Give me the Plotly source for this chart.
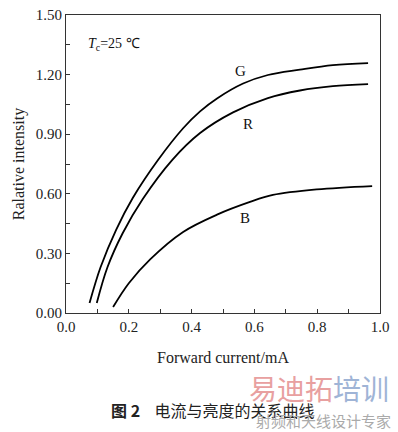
import plotly.graph_objects as go

# Data
g_x = [0.075, 0.11, 0.16, 0.213, 0.293, 0.373, 0.427, 0.481, 0.564, 0.643, 0.745, 0.85, 0.962]
g_y = [0.05, 0.23, 0.42, 0.58, 0.77, 0.93, 1.015, 1.08, 1.155, 1.198, 1.225, 1.248, 1.258]
r_x = [0.098, 0.132, 0.18, 0.245, 0.338, 0.427, 0.532, 0.643, 0.745, 0.85, 0.962]
r_y = [0.05, 0.23, 0.40, 0.575, 0.77, 0.906, 1.01, 1.082, 1.12, 1.142, 1.152]
b_x = [0.150, 0.2, 0.268, 0.373, 0.481, 0.586, 0.659, 0.799, 0.975]
b_y = [0.030, 0.15, 0.27, 0.408, 0.495, 0.559, 0.594, 0.622, 0.639]

x_ticks = [0.0, 0.2, 0.4, 0.6, 0.8, 1.0]
x_tick_labels = ["0.0", "0.2", "0.4", "0.6", "0.8", "1.0"]
y_ticks = [0.0, 0.3, 0.6, 0.9, 1.2, 1.5]
y_tick_labels = ["0.00", "0.30", "0.60", "0.90", "1.20", "1.50"]

series = [("G", g_x, g_y), ("R", r_x, r_y), ("B", b_x, b_y)]
labels = [("G", 0.557, 1.218), ("R", 0.58, 0.951), ("B", 0.57, 0.478)]

SERIF = "Liberation Serif"
fig = go.Figure()
for name, xs, ys in series:
    fig.add_trace(go.Scatter(x=xs, y=ys, mode="lines", name=name,
                             line=dict(color="black", width=1.8, shape="spline", smoothing=1.0),
                             showlegend=False))

for text, lx, ly in labels:
    fig.add_annotation(x=lx, y=ly, text=text, showarrow=False,
                       font=dict(family=SERIF, size=15, color="#111"))

fig.add_annotation(x=0.065, y=1.35, xanchor="left", text="<i>T</i><sub>c</sub>=25 ℃",
                   showarrow=False, font=dict(family=SERIF, size=14, color="#111"))

axis_common = dict(showline=True, linecolor="#333", linewidth=1, mirror=True,
                   ticks="inside", ticklen=4, tickcolor="#333", showgrid=False,
                   zeroline=False, automargin=False,
                   tickfont=dict(family=SERIF, size=15, color="#222"))

fig.update_xaxes(range=[0, 1.0], tickvals=x_ticks, ticktext=x_tick_labels,
                 minor=dict(ticks="inside", ticklen=4, dtick=0.1, tick0=0.1, tickcolor="#333"),
                 title=dict(text="Forward current/mA", font=dict(family=SERIF, size=16, color="#222"),
                            standoff=17),
                 **axis_common)
fig.update_yaxes(range=[0, 1.5], tickvals=y_ticks, ticktext=y_tick_labels,
                 minor=dict(ticks="inside", ticklen=4, dtick=0.15, tick0=0.15, tickcolor="#333"),
                 title=dict(text="Ralative intensity", font=dict(family=SERIF, size=16, color="#222"),
                            standoff=7),
                 **axis_common)

# caption
fig.add_annotation(xref="paper", yref="paper", x=0.465, y=-0.325, yanchor="middle",
                   text="<b>图 2</b>    电流与亮度的关系曲线", showarrow=False,
                   font=dict(family="Noto Sans CJK SC", size=16, color="#222"))
# watermark logo
fig.add_annotation(xref="paper", yref="paper", x=1.035, y=-0.25, xanchor="right", yanchor="middle",
                   text="<span style='color:#e8a0a0'>易迪拓</span><span style='color:#9fb4d6'>培训</span>",
                   showarrow=False, font=dict(family="Noto Sans CJK SC", size=28))
fig.add_annotation(xref="paper", yref="paper", x=1.04, y=-0.36, xanchor="right", yanchor="middle",
                   text="射频和天线设计专家", showarrow=False,
                   font=dict(family="Noto Sans CJK SC", size=15, color="#aaaaaa"))

fig.update_layout(width=398, height=432, margin=dict(l=66, r=18, t=15, b=119),
                  plot_bgcolor="white", paper_bgcolor="white")

fig.write_html("out.html", config={"displayModeBar": False},
               post_script="document.body.style.margin='0';")
